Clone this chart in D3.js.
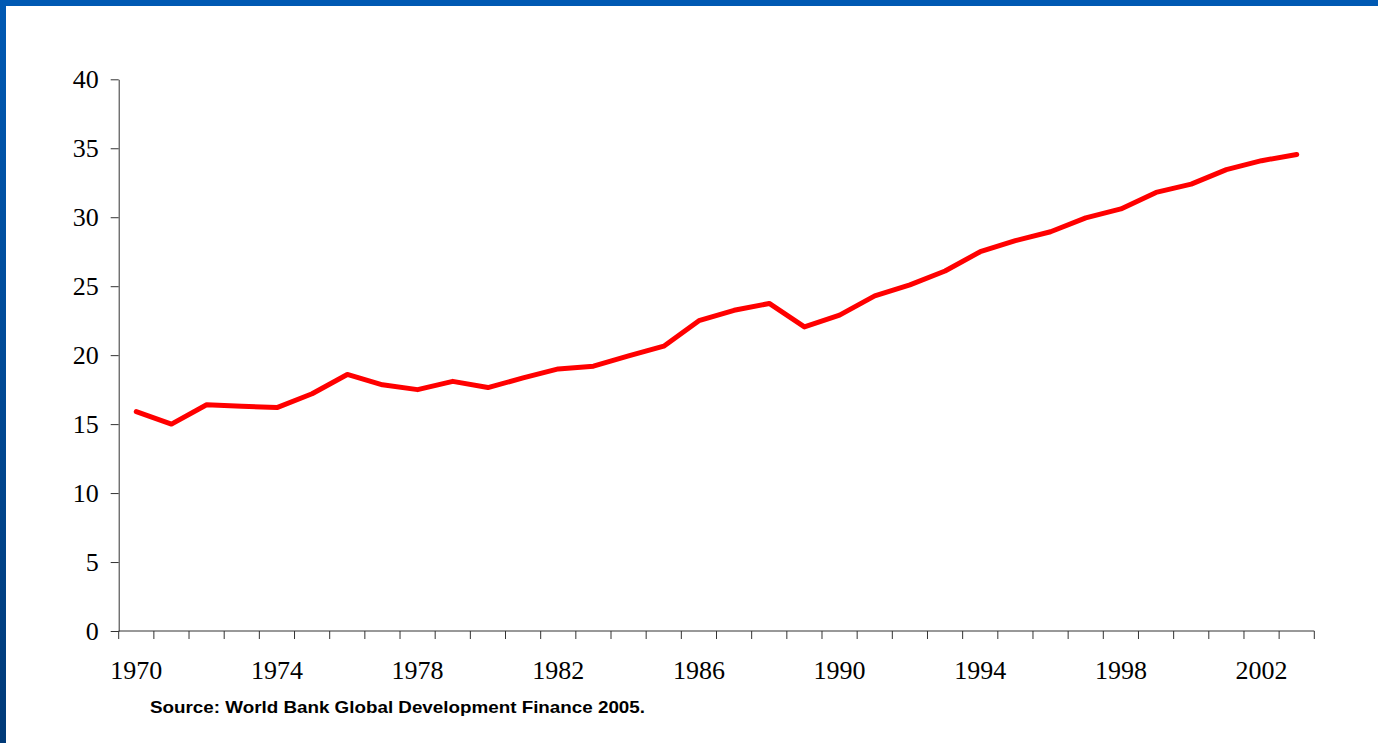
<!DOCTYPE html>
<html>
<head>
<meta charset="utf-8">
<script src="https://cdn.jsdelivr.net/npm/d3@7"></script>
<style>
  html, body { margin: 0; padding: 0; background: #fff; }
  svg { display: block; }
</style>
</head>
<body>
<svg id="chart" width="1378" height="743"></svg>
<script>
const years = [1970,1971,1972,1973,1974,1975,1976,1977,1978,1979,1980,1981,1982,1983,1984,1985,1986,1987,1988,1989,1990,1991,1992,1993,1994,1995,1996,1997,1998,1999,2000,2001,2002,2003];
const values = [15.9,15.0,16.4,16.3,16.2,17.2,18.6,17.85,17.5,18.1,17.65,18.35,19.0,19.2,19.95,20.65,22.5,23.25,23.75,22.05,22.9,24.3,25.1,26.1,27.5,28.3,28.95,29.95,30.6,31.8,32.4,33.45,34.1,34.55];
const yTicks = [0,5,10,15,20,25,30,35,40];
const xLabelYears = [1970,1974,1978,1982,1986,1990,1994,1998,2002];
const sourceText = "Source: World Bank Global Development Finance 2005.";

(function () {
const svg = d3.select("#chart");

// frame
const defs = svg.append("defs");
const grad = defs.append("linearGradient").attr("id","lg").attr("x1",0).attr("y1",0).attr("x2",0).attr("y2",1);
grad.append("stop").attr("offset","0%").attr("stop-color","#0059B3");
grad.append("stop").attr("offset","100%").attr("stop-color","#003A78");
svg.append("rect").attr("x",0).attr("y",0).attr("width",1378).attr("height",6).attr("fill","#0059B3");
svg.append("rect").attr("x",0).attr("y",0).attr("width",6).attr("height",743).attr("fill","url(#lg)");

const pLeft = 118.7, pRight = 1314.3, pTop = 79.3, pBottom = 631;

const x = d3.scaleBand().domain(years).range([pLeft, pRight]).paddingInner(0).paddingOuter(0);
const y = d3.scaleLinear().domain([0,40]).range([pBottom, pTop]);

// y axis
const yAxis = d3.axisLeft(y).tickValues(yTicks).tickSize(8).tickSizeOuter(0).tickPadding(12);
const gy = svg.append("g").attr("transform", `translate(${pLeft},0)`).call(yAxis);
gy.select(".domain").attr("stroke","#333");
gy.selectAll(".tick line").attr("stroke","#333");
gy.selectAll(".tick text").attr("font-family","'Liberation Serif', 'Times New Roman', serif").attr("font-size","26px").attr("fill","#000");

// x axis: ticks at category boundaries
const boundaries = d3.range(years.length + 1).map(i => pLeft + i * x.bandwidth());
const gx = svg.append("g");
gx.append("line").attr("x1",pLeft).attr("x2",pRight).attr("y1",pBottom).attr("y2",pBottom).attr("stroke","#333");
gx.selectAll("line.tk").data(boundaries).enter().append("line").attr("class","tk")
  .attr("x1",d=>d).attr("x2",d=>d).attr("y1",pBottom).attr("y2",pBottom+8).attr("stroke","#333");
gx.selectAll("text").data(xLabelYears).enter().append("text")
  .attr("x", d => x(d) + x.bandwidth()/2)
  .attr("y", 679)
  .attr("text-anchor","middle")
  .attr("font-family","'Liberation Serif', 'Times New Roman', serif")
  .attr("font-size","26px")
  .attr("fill","#000")
  .text(d => d);

// line
const line = d3.line().x((d,i) => x(years[i]) + x.bandwidth()/2).y(d => y(d));
svg.append("path").datum(values).attr("d", line)
  .attr("fill","none").attr("stroke","#FF0000").attr("stroke-width",5)
  .attr("stroke-linejoin","round").attr("stroke-linecap","round");

// source
svg.append("text").attr("x",150).attr("y",713)
  .attr("font-family","'Liberation Sans', Arial, sans-serif").attr("font-weight","bold")
  .attr("font-size","17px").attr("fill","#000")
  .attr("textLength",495).attr("lengthAdjust","spacingAndGlyphs")
  .text(sourceText);
})();
</script>
</body>
</html>
